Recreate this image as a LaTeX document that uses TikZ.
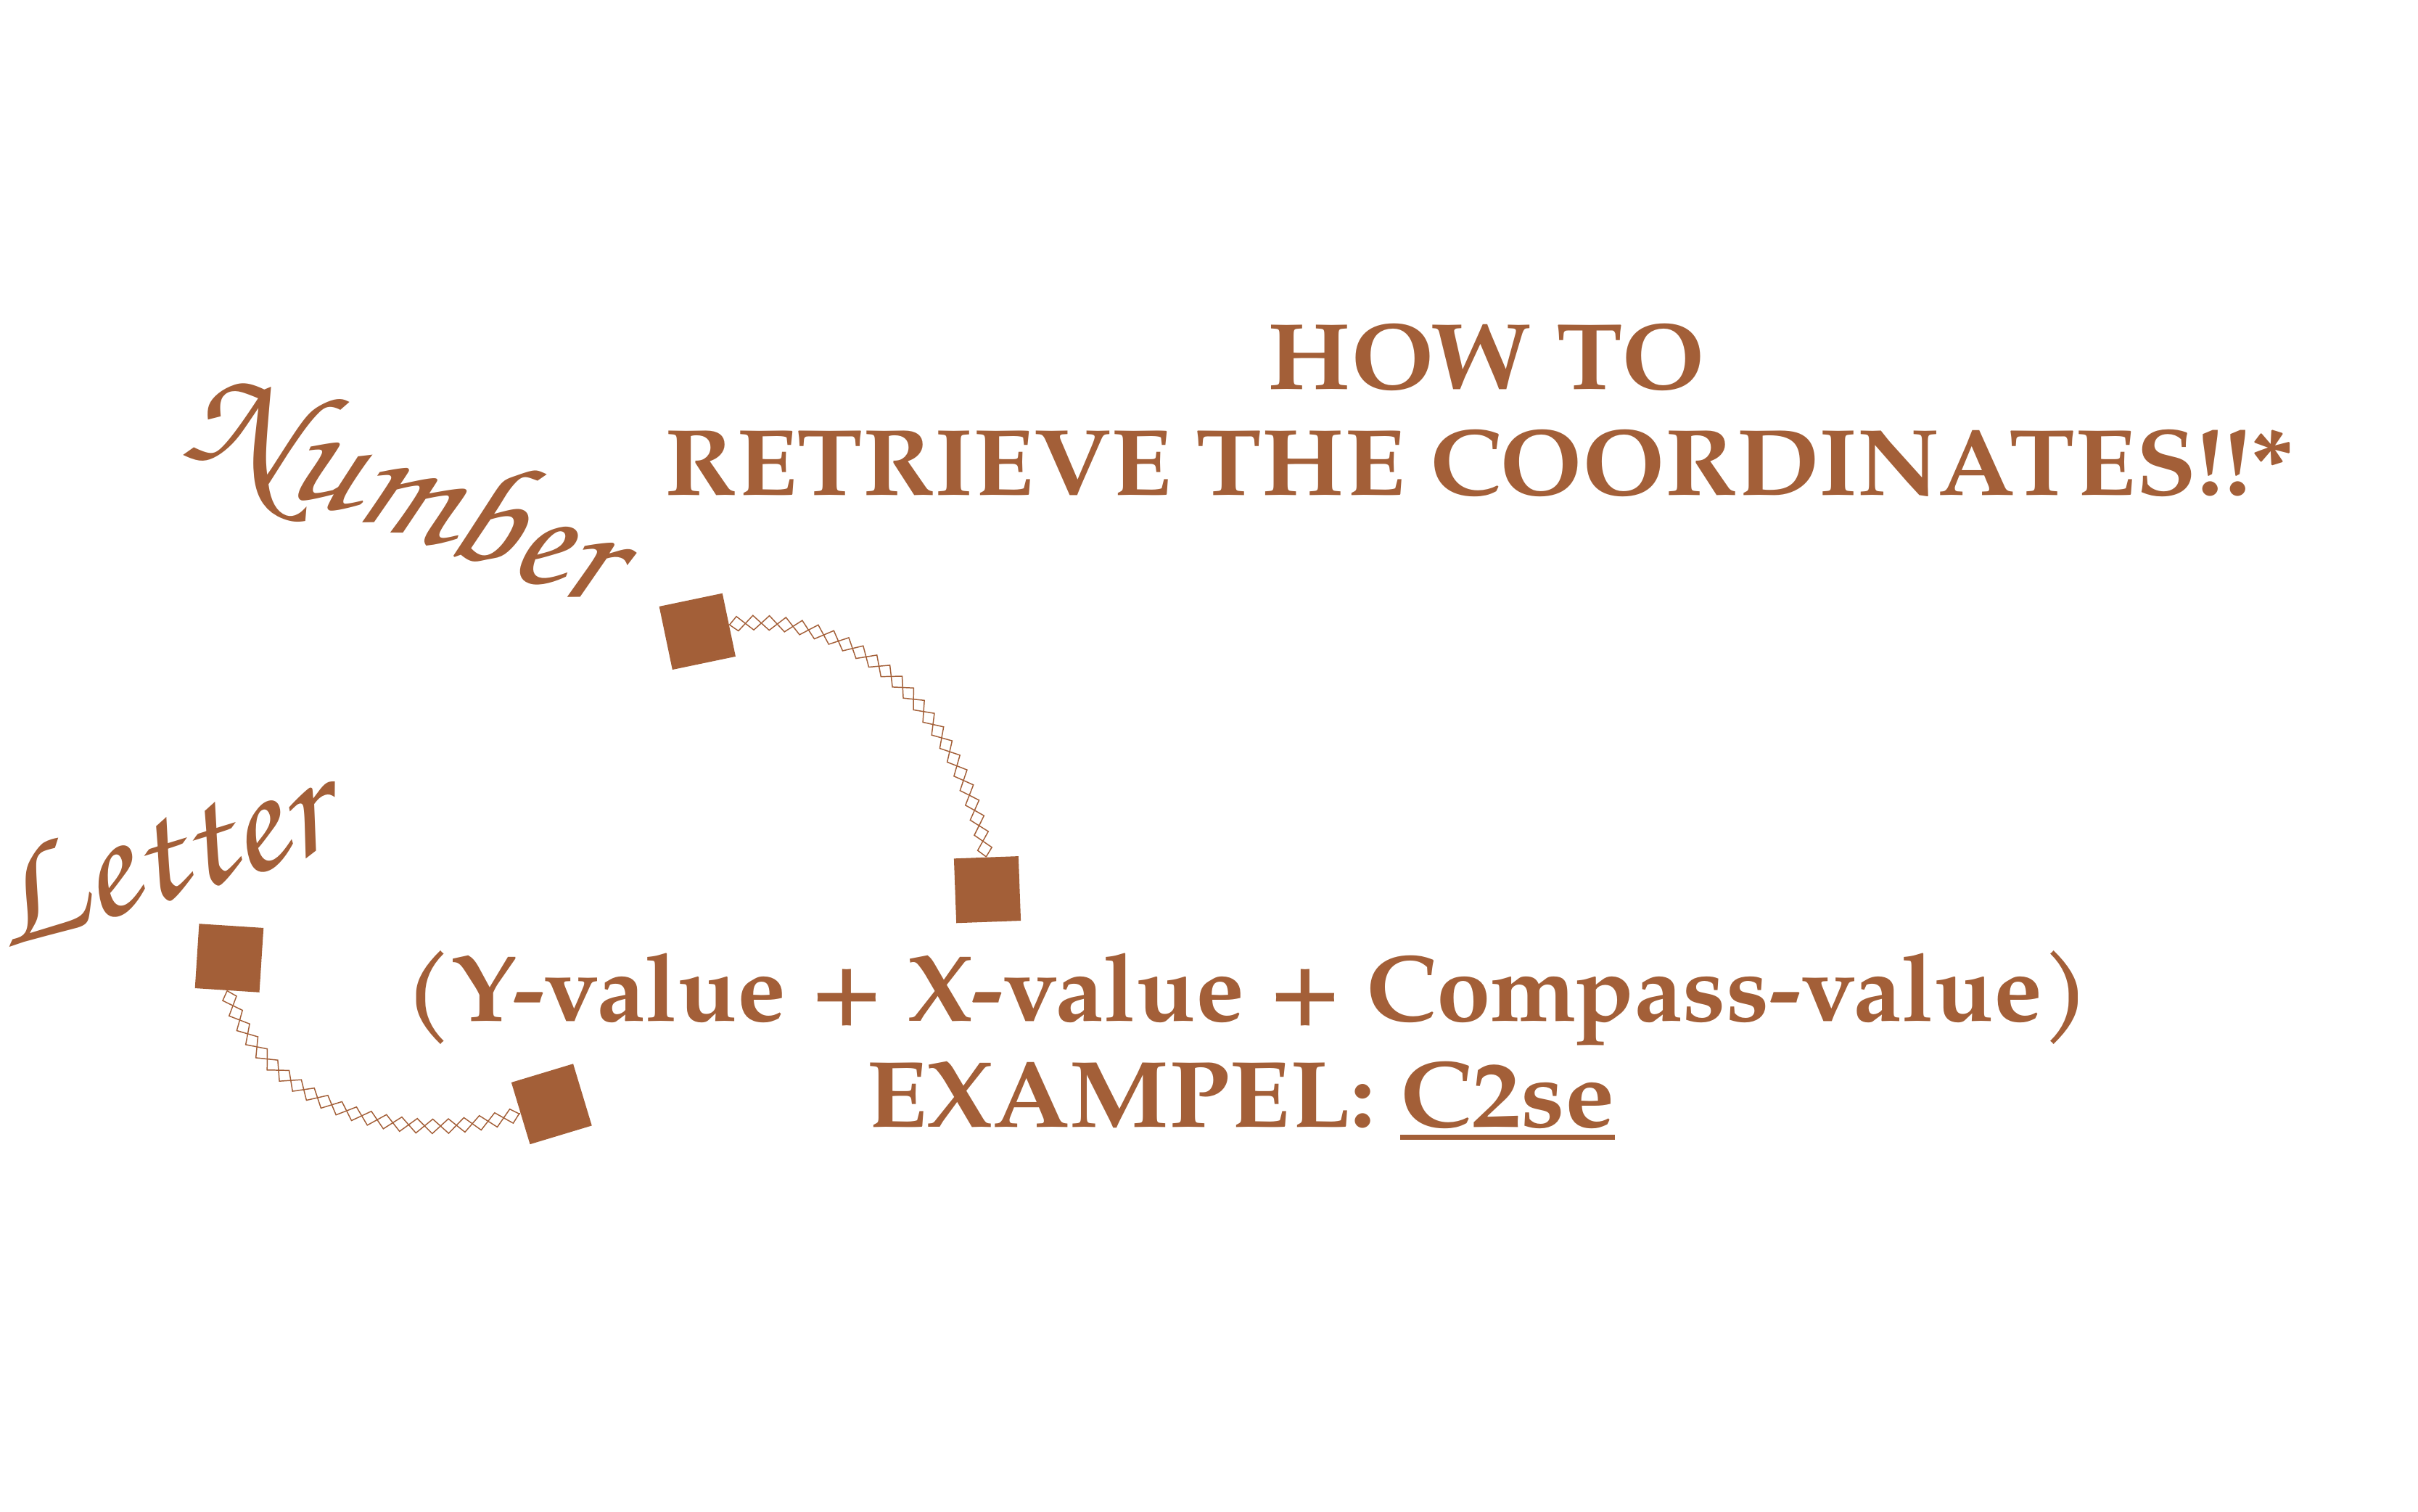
\documentclass[tikz,border=0pt]{standalone}
\usepackage{fontspec}
\setmainfont{texgyrepagella}[Extension=.otf,UprightFont=*-regular,BoldFont=*-bold,ItalicFont=*-italic,BoldItalicFont=*-bolditalic]
\newfontfamily\chorusfam{texgyrechorus-mediumitalic}[Extension=.otf]
\usetikzlibrary{decorations.pathmorphing}
\definecolor{rust}{RGB}{163,95,56}
\newcommand\ulinebox[1]{\setbox0\hbox{#1}\rlap{\raisebox{-0.175cm}{\rule{\wd0}{0.07cm}}}\box0}
\begin{document}
\begin{tikzpicture}[
  blk/.style={fill=rust, draw=none, inner sep=0pt, minimum width=0.89cm, minimum height=0.89cm},
  chainA/.style={draw=rust, line width=0.42pt, decorate, decoration={zigzag, segment length=0.44cm, amplitude=0.1cm}},
  chainB/.style={draw=rust, line width=0.42pt, decorate, decoration={zigzag, segment length=0.44cm, amplitude=0.1cm, mirror}},
  titletext/.style={text=rust, font=\fontsize{37}{44}\selectfont\bfseries, anchor=base, inner sep=0pt},
  scripttext/.style={text=rust, font=\fontsize{62}{66}\selectfont\chorusfam, inner sep=0pt}
]
\useasboundingbox (0,0) rectangle (33.33,20.83);

% texts
\node[titletext, xscale=1.06] (t1) at (20.49,15.46) {HOW TO};
\node[titletext, xscale=1.05] (t2) at (20.39,14.00) {RETRIEVE THE COORDINATES!!*};
\node[titletext, xscale=1.03] (t3) at (17.19,6.76) {(Y-value + X-value + Compass-value)};
\node[titletext, xscale=1.05] (t4) at (17.10,5.30) {EXAMPEL: \ulinebox{C2se}};

\node[scripttext, rotate=-20] (num) at (5.54,14.05) {Number};
\node[scripttext, rotate=17] (let) at (2.18,9.03) {Letter};

% blocks
\node[blk, rotate=11.8] (A) at (9.613,12.126) {};
\node[blk, rotate=2.1] (B) at (13.61,8.568) {};
\node[blk, rotate=-3.7] (C) at (3.16,7.625) {};
\node[blk, rotate=16.8] (D) at (7.603,5.613) {};

% chains
\draw[chainA] (A.east) to[out=8,in=100] (B.north);
\draw[chainB] (A.east) to[out=8,in=100] (B.north);
\draw[chainA] (C.south) to[out=-72,in=197] (D.west);
\draw[chainB] (C.south) to[out=-72,in=197] (D.west);
\end{tikzpicture}
\end{document}
